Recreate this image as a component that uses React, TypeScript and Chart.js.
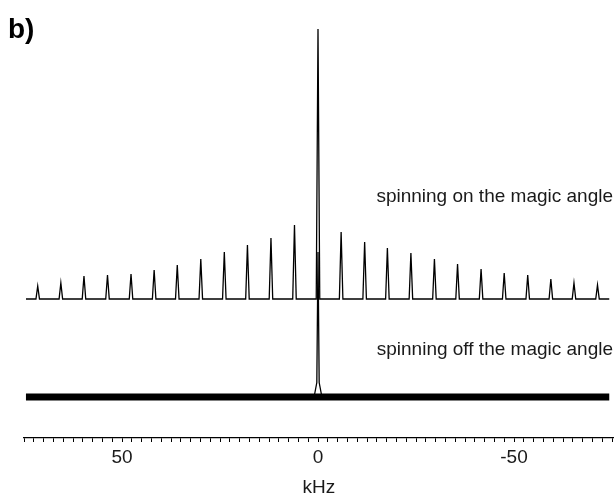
import React, { useEffect, useRef } from 'react';
import { Chart, registerables } from 'chart.js';

Chart.register(...registerables);

// Sideband positions (kHz) and heights (arbitrary intensity units)
const sidebandPositions = [71.5, 65.6, 59.7, 53.7, 47.7, 41.8, 35.9, 29.9, 23.9, 18.0, 12.0, 6.0, -5.9, -11.9, -17.7, -23.7, -29.7, -35.6, -41.6, -47.5, -53.5, -59.4, -65.3, -71.3];
const sidebandHeights = [13, 16, 23, 24, 25, 29, 34, 40, 47, 54, 61, 74, 67, 57, 51, 46, 40, 35, 30, 26, 24, 20, 16, 14];
const centerPosition = 0;
const onAngleCenterHeight = 270;
const offAngleCenterHeight = 145;
const onAngleOffset = 139;
const offAngleOffset = 41;
const spectrumRange = [74.5, -74.3];
const axisRange = [75, -75.5];
const tickLabels = [50, 0, -50];
const axisTitle = 'kHz';
const panelLabel = 'b)';
const traceLabels = ['spinning on the magic angle', 'spinning off the magic angle'];

const FONT = '"Liberation Sans", Arial, Helvetica, sans-serif';

function buildOnAngle() {
  const peaks = sidebandPositions
    .map((p, i) => ({ p, h: sidebandHeights[i] }))
    .concat([{ p: centerPosition, h: onAngleCenterHeight }])
    .sort((a, b) => b.p - a.p);
  const pts: { x: number; y: number }[] = [{ x: spectrumRange[0], y: onAngleOffset }];
  for (const { p, h } of peaks) {
    pts.push({ x: p + 0.45, y: onAngleOffset });
    pts.push({ x: p, y: onAngleOffset + h });
    pts.push({ x: p - 0.45, y: onAngleOffset });
  }
  pts.push({ x: spectrumRange[1], y: onAngleOffset });
  return pts;
}

function buildOffAnglePeak() {
  const h = offAngleCenterHeight;
  return [
    { x: centerPosition + 1.0, y: offAngleOffset },
    { x: centerPosition + 0.3, y: offAngleOffset + h * 0.1 },
    { x: centerPosition, y: offAngleOffset + h },
    { x: centerPosition - 0.3, y: offAngleOffset + h * 0.1 },
    { x: centerPosition - 1.0, y: offAngleOffset },
  ];
}

const textPlugin = {
  id: 'textLabels',
  afterDraw(chart: any) {
    const ctx = chart.ctx;
    ctx.save();
    ctx.fillStyle = '#1a1a1a';
    ctx.textBaseline = 'alphabetic';
    ctx.font = `19px ${FONT}`;
    ctx.textAlign = 'right';
    ctx.fillText(traceLabels[0], 613, 202);
    ctx.fillText(traceLabels[1], 613, 355);
    ctx.fillStyle = '#000';
    ctx.font = `bold 28px ${FONT}`;
    ctx.textAlign = 'left';
    ctx.fillText(panelLabel, 8, 38);
    ctx.restore();
  },
};

export default function App() {
  const ref = useRef<HTMLCanvasElement | null>(null);
  useEffect(() => {
    if (!ref.current) return;
    const chart = new Chart(ref.current, {
      type: 'line',
      data: {
        datasets: [
          {
            data: buildOnAngle(),
            borderColor: '#000',
            borderWidth: 1.3,
            pointRadius: 0,
            tension: 0,
            fill: false,
          },
          {
            data: [
              { x: spectrumRange[0], y: offAngleOffset },
              { x: spectrumRange[1], y: offAngleOffset },
            ],
            borderColor: '#000',
            borderWidth: 7,
            pointRadius: 0,
            tension: 0,
            fill: false,
          },
          {
            data: buildOffAnglePeak(),
            borderColor: '#000',
            borderWidth: 1.3,
            pointRadius: 0,
            tension: 0,
            fill: false,
          },
        ],
      },
      options: {
        responsive: false,
        animation: false,
        events: [],
        layout: { padding: { left: 24, right: 0, top: 0, bottom: 0 } },
        plugins: { legend: { display: false }, tooltip: { enabled: false } },
        scales: {
          x: {
            type: 'linear',
            reverse: true,
            min: axisRange[1],
            max: axisRange[0],
            afterFit: (s: any) => {
              s.height = 62;
            },
            border: { display: true, color: '#000', width: 1.3 },
            grid: {
              display: true,
              drawOnChartArea: false,
              drawTicks: true,
              tickLength: 4,
              color: '#000',
              lineWidth: 1,
            },
            ticks: {
              stepSize: 2.5,
              autoSkip: false,
              includeBounds: false,
              maxRotation: 0,
              minRotation: 0,
              padding: 4,
              color: '#1a1a1a',
              font: { family: FONT, size: 19 },
              callback: (v: any) => {
                const t = tickLabels.find((l) => Math.abs(l - Number(v)) < 1e-6);
                return t === undefined ? '' : String(t);
              },
            },
            title: {
              display: true,
              text: axisTitle,
              color: '#1a1a1a',
              font: { family: FONT, size: 19 },
              padding: { top: 0, bottom: 1 },
            },
          },
          y: {
            type: 'linear',
            display: false,
            min: 0,
            max: 438,
          },
        },
      },
      plugins: [textPlugin],
    });
    return () => chart.destroy();
  }, []);
  return (
    <div style={{ position: 'absolute', left: 0, top: 0, width: 616, height: 500, background: '#fff' }}>
      <canvas ref={ref} width={616} height={500} style={{ display: 'block' }} />
    </div>
  );
}
